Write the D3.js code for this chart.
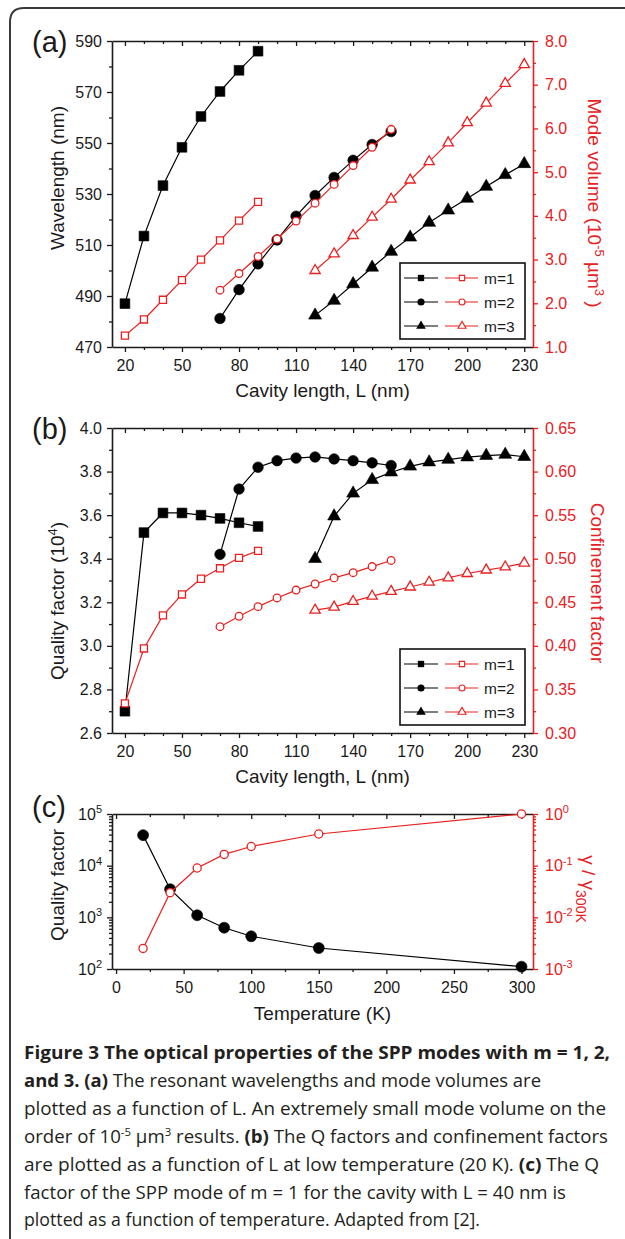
<!DOCTYPE html>
<html><head><meta charset="utf-8">
<script src="https://cdn.jsdelivr.net/npm/d3@7"></script>
<style>body{margin:0;background:#fff}svg{display:block}</style>
</head><body>
<svg id="c" width="625" height="1239"></svg>
<script>
// ---------------- DATA ----------------
// Panel (a): wavelength (nm) and mode volume (1e-5 um^3) vs cavity length L (nm)
const L_m1 = [20, 30, 40, 50, 60, 70, 80, 90];
const L_m2 = [70, 80, 90, 100, 110, 120, 130, 140, 150, 160];
const L_m3 = [120, 130, 140, 150, 160, 170, 180, 190, 200, 210, 220, 230];
const wavelength_m1 = [487, 513.5, 533.3, 548.3, 560.4, 570.2, 578.5, 586];
const wavelength_m2 = [481.2, 492.5, 502.6, 512, 521.3, 529.4, 536.5, 543.2, 549.4, 554.5];
const wavelength_m3 = [482.4, 488.2, 494.7, 501.2, 507.4, 513, 518.8, 523.6, 528.2, 532.9, 537.5, 541.8];
const volume_m1 = [1.26, 1.63, 2.08, 2.53, 3.0, 3.44, 3.89, 4.32];
const volume_m2 = [2.3, 2.68, 3.07, 3.47, 3.88, 4.29, 4.72, 5.15, 5.57, 5.98];
const volume_m3 = [2.75, 3.13, 3.55, 3.97, 4.38, 4.82, 5.24, 5.67, 6.13, 6.58, 7.03, 7.46];
// Panel (b): quality factor (1e4) and confinement factor vs L
const Q_m1 = [2.70, 3.52, 3.61, 3.61, 3.60, 3.585, 3.565, 3.548];
const Q_m2 = [3.42, 3.72, 3.82, 3.85, 3.862, 3.867, 3.858, 3.85, 3.84, 3.828];
const Q_m3 = [3.40, 3.595, 3.70, 3.762, 3.797, 3.824, 3.843, 3.855, 3.866, 3.873, 3.878, 3.868];
const conf_m1 = [0.334, 0.397, 0.435, 0.459, 0.477, 0.489, 0.501, 0.509];
const conf_m2 = [0.422, 0.434, 0.445, 0.455, 0.464, 0.471, 0.478, 0.484, 0.491, 0.498];
const conf_m3 = [0.441, 0.4445, 0.451, 0.457, 0.4625, 0.4675, 0.473, 0.478, 0.483, 0.487, 0.4905, 0.495];
// Panel (c): quality factor and gamma/gamma_300K vs temperature (K)
const temperature = [20, 40, 60, 80, 100, 150, 300];
const Q_temp = [39000, 3500, 1100, 630, 430, 255, 111];
const gamma_ratio = [0.0025, 0.030, 0.090, 0.165, 0.235, 0.41, 1.0];
// Ticks
const xTicksL = [20, 50, 80, 110, 140, 170, 200, 230];
const xMinorL = d3.range(20, 231, 10).filter(v => !xTicksL.includes(v));
const wlTicks = [470, 490, 510, 530, 550, 570, 590];
const volTicks = [1, 2, 3, 4, 5, 6, 7, 8];
const qTicks = [2.6, 2.8, 3.0, 3.2, 3.4, 3.6, 3.8, 4.0];
const confTicks = [0.30, 0.35, 0.40, 0.45, 0.50, 0.55, 0.60, 0.65];
const tTicks = [0, 50, 100, 150, 200, 250, 300];
const tMinor = [25, 75, 125, 175, 225, 275];
const qLogTicks = [1e2, 1e3, 1e4, 1e5];
const gLogTicks = [1e-3, 1e-2, 1e-1, 1e0];
const legendLabels = ["m=1", "m=2", "m=3"];

// ---------------- STYLE ----------------
const RED = "#e8201f";
const INK = "#1a1a1a";
const FONT = "'Liberation Sans', Arial, Helvetica, sans-serif";
const CAPFONT = "'Open Sans', 'Noto Sans', sans-serif";
const X0 = 112, X1 = 533;

const svg = d3.select("#c");
svg.append("rect").attr("width", 625).attr("height", 1239).attr("fill", "#fff");
// outer frame (top + left with rounded corner)
svg.append("path").attr("d", "M10,1239 V22 Q10,8 24,8 H625")
  .attr("fill", "none").attr("stroke", "#3a3a3a").attr("stroke-width", 2);

function styleAxis(sel, color, noDomain) {
  sel.attr("font-family", FONT);
  sel.selectAll(".tick line").attr("stroke", color).attr("stroke-width", 1.3);
  if (noDomain) sel.select(".domain").remove();
  else sel.select(".domain").attr("stroke", color).attr("stroke-width", 1.6);
  sel.selectAll(".tick text").attr("fill", color).attr("font-size", 16).attr("font-family", FONT);
}

function xAxes(x, top, bottom, majors, minors) {
  const a = svg.append("g").attr("transform", `translate(0,${bottom})`)
    .call(d3.axisBottom(x).tickValues(majors).tickSize(5).tickSizeOuter(0).tickPadding(8).tickFormat(d3.format("d")));
  styleAxis(a, INK);
  const b = svg.append("g").attr("transform", `translate(0,${bottom})`)
    .call(d3.axisBottom(x).tickValues(minors).tickSize(3).tickFormat(""));
  styleAxis(b, INK, true);
  const c = svg.append("g").attr("transform", `translate(0,${top})`)
    .call(d3.axisTop(x).tickValues(majors).tickSize(-5).tickSizeOuter(0).tickFormat(""));
  styleAxis(c, INK);
  const d = svg.append("g").attr("transform", `translate(0,${top})`)
    .call(d3.axisTop(x).tickValues(minors).tickSize(-3).tickFormat(""));
  styleAxis(d, INK, true);
}

function yAxis(scale, side, majors, minors, fmt, color) {
  const ax = side === "left" ? d3.axisLeft : d3.axisRight;
  const pos = side === "left" ? X0 : X1;
  const a = svg.append("g").attr("transform", `translate(${pos},0)`)
    .call(ax(scale).tickValues(majors).tickSize(5).tickSizeOuter(0).tickPadding(side === "left" ? 5 : 7).tickFormat(fmt));
  styleAxis(a, color);
  const b = svg.append("g").attr("transform", `translate(${pos},0)`)
    .call(ax(scale).tickValues(minors).tickSize(3).tickFormat(""));
  styleAxis(b, color, true);
  return a;
}

function supLabels(sel) {
  sel.selectAll(".tick text").each(function (d) {
    const t = d3.select(this);
    const e = Math.round(Math.log10(d));
    t.text("10");
    t.append("tspan").attr("dy", "-0.6em").attr("font-size", "11px").text(e);
  });
}

function series(xs, ys, x, y, sym, size, filled, color) {
  const line = d3.line().x((d, i) => x(xs[i])).y(d => y(d));
  svg.append("path").datum(ys).attr("d", line).attr("fill", "none")
    .attr("stroke", color).attr("stroke-width", 1.2);
  svg.append("g").selectAll("path").data(ys).join("path")
    .attr("transform", (d, i) => `translate(${x(xs[i])},${y(d)})`)
    .attr("d", d3.symbol(sym, size))
    .attr("fill", filled ? color : "#fff")
    .attr("stroke", color).attr("stroke-width", filled ? 0.6 : 1.3);
}

function legend(bottom) {
  const top = bottom - 84;
  const g = svg.append("g");
  g.append("rect").attr("x", 400).attr("y", top).attr("width", 125).attr("height", 76)
    .attr("fill", "#fff").attr("stroke", "#111").attr("stroke-width", 1.6);
  const syms = [d3.symbolSquare, d3.symbolCircle, d3.symbolTriangle];
  legendLabels.forEach((lab, i) => {
    const yy = top + 15 + i * 24;
    g.append("line").attr("x1", 404).attr("x2", 438).attr("y1", yy).attr("y2", yy).attr("stroke", "#000").attr("stroke-width", 1.2);
    g.append("path").attr("transform", `translate(421,${yy})`).attr("d", d3.symbol(syms[i], 40)).attr("fill", "#000");
    g.append("line").attr("x1", 445).attr("x2", 478).attr("y1", yy).attr("y2", yy).attr("stroke", RED).attr("stroke-width", 1.2);
    g.append("path").attr("transform", `translate(462,${yy})`).attr("d", d3.symbol(syms[i], 28)).attr("fill", "#fff").attr("stroke", RED).attr("stroke-width", 1.1);
    g.append("text").attr("x", 484).attr("y", yy + 5.5).attr("font-family", FONT).attr("font-size", 15.5).attr("fill", INK).text(lab);
  });
}

function panelLabel(txt, y) {
  svg.append("text").attr("x", 32).attr("y", y).attr("font-family", FONT).attr("font-size", 29).attr("fill", INK).text(txt);
}

function rotText(x, y, angle, color) {
  return svg.append("text").attr("transform", `translate(${x},${y}) rotate(${angle})`)
    .attr("text-anchor", "middle").attr("font-family", FONT).attr("font-size", 19).attr("fill", color);
}

// ---------------- PANEL (a) ----------------
{
  const top = 41, bottom = 347;
  const x = d3.scaleLinear([13.2, 234.6], [X0, X1]);
  const yL = d3.scaleLinear([470, 590], [bottom, top]);
  const yR = d3.scaleLinear([1, 8], [bottom, top]);
  xAxes(x, top, bottom, xTicksL, xMinorL);
  yAxis(yL, "left", wlTicks, d3.range(480, 590, 20), d3.format("d"), INK);
  yAxis(yR, "right", volTicks, d3.range(1.5, 8, 1), d3.format(".1f"), RED);
  series(L_m1, wavelength_m1, x, yL, d3.symbolSquare, 95, true, "#000");
  series(L_m2, wavelength_m2, x, yL, d3.symbolCircle, 88, true, "#000");
  series(L_m3, wavelength_m3, x, yL, d3.symbolTriangle, 72, true, "#000");
  series(L_m1, volume_m1, x, yR, d3.symbolSquare, 50, false, RED);
  series(L_m2, volume_m2, x, yR, d3.symbolCircle, 46, false, RED);
  series(L_m3, volume_m3, x, yR, d3.symbolTriangle, 46, false, RED);
  legend(bottom);
  panelLabel("(a)", 52);
  rotText(64, 178, -90, INK).text("Wavelength (nm)");
  const t = rotText(588, 203, 90, RED);
  t.append("tspan").text("Mode volume (10");
  t.append("tspan").attr("dy", -7).attr("font-size", 13).text("-5");
  t.append("tspan").attr("dy", 7).text(" µm");
  t.append("tspan").attr("dy", -7).attr("font-size", 13).text("3");
  t.append("tspan").attr("dy", 7).text(" )");
  svg.append("text").attr("x", (X0 + X1) / 2).attr("y", bottom + 50).attr("text-anchor", "middle")
    .attr("font-family", FONT).attr("font-size", 19).attr("fill", INK).text("Cavity length, L (nm)");
}

// ---------------- PANEL (b) ----------------
{
  const top = 428, bottom = 733;
  const x = d3.scaleLinear([13.2, 234.6], [X0, X1]);
  const yL = d3.scaleLinear([2.6, 4.0], [bottom, top]);
  const yR = d3.scaleLinear([0.30, 0.65], [bottom, top]);
  xAxes(x, top, bottom, xTicksL, xMinorL);
  yAxis(yL, "left", qTicks, d3.range(2.7, 4.0, 0.2), d3.format(".1f"), INK);
  yAxis(yR, "right", confTicks, d3.range(0.325, 0.65, 0.05), d3.format(".2f"), RED);
  series(L_m1, Q_m1, x, yL, d3.symbolSquare, 95, true, "#000");
  series(L_m2, Q_m2, x, yL, d3.symbolCircle, 88, true, "#000");
  series(L_m3, Q_m3, x, yL, d3.symbolTriangle, 72, true, "#000");
  series(L_m1, conf_m1, x, yR, d3.symbolSquare, 50, false, RED);
  series(L_m2, conf_m2, x, yR, d3.symbolCircle, 46, false, RED);
  series(L_m3, conf_m3, x, yR, d3.symbolTriangle, 46, false, RED);
  legend(bottom);
  panelLabel("(b)", 439);
  const t = rotText(64, 601, -90, INK);
  t.append("tspan").text("Quality factor  (10");
  t.append("tspan").attr("dy", -7).attr("font-size", 13).text("4");
  t.append("tspan").attr("dy", 7).text(")");
  rotText(591, 583, 90, RED).text("Confinement factor");
  svg.append("text").attr("x", (X0 + X1) / 2).attr("y", bottom + 50).attr("text-anchor", "middle")
    .attr("font-family", FONT).attr("font-size", 19).attr("fill", INK).text("Cavity length, L (nm)");
}

// ---------------- PANEL (c) ----------------
{
  const top = 814, bottom = 969;
  const x = d3.scaleLinear([-3, 308.5], [X0, X1]);
  const yL = d3.scaleLog([1e2, 1e5], [bottom, top]);
  const yR = d3.scaleLog([1e-3, 1], [bottom, top]);
  xAxes(x, top, bottom, tTicks, tMinor);
  const minorL = yL.ticks().filter(v => !qLogTicks.some(m => Math.abs(m - v) < 1e-9));
  const minorR = yR.ticks().filter(v => !gLogTicks.some(m => Math.abs(m - v) < 1e-12));
  const aL = yAxis(yL, "left", qLogTicks, minorL, d => d, INK);
  supLabels(aL);
  const aR = yAxis(yR, "right", gLogTicks, minorR, d => d, RED);
  supLabels(aR);
  series(temperature, Q_temp, x, yL, d3.symbolCircle, 95, true, "#000");
  series(temperature, gamma_ratio, x, yR, d3.symbolCircle, 52, false, RED);
  panelLabel("(c)", 817);
  rotText(64, 885, -90, INK).text("Quality factor");
  const t = rotText(582, 889, 90, RED);
  t.append("tspan").text("γ / γ");
  t.append("tspan").attr("dy", 6).attr("font-size", 14).text("300K");
  svg.append("text").attr("x", (X0 + X1) / 2).attr("y", bottom + 51).attr("text-anchor", "middle")
    .attr("font-family", FONT).attr("font-size", 19).attr("fill", INK).text("Temperature (K)");
}

// ---------------- CAPTION ----------------
const captionLines = [
  [["Figure 3 The optical properties of the SPP modes with m = 1, 2,", "b"]],
  [["and 3. ", "b"], ["(a)", "b"], [" The resonant wavelengths and mode volumes are", ""]],
  [["plotted as a function of L. An extremely small mode volume on the", ""]],
  [["order of 10", ""], ["-5", "sup"], [" µm", ""], ["3", "sup"], [" results. ", ""], ["(b)", "b"], [" The Q factors and confinement factors", ""]],
  [["are plotted as a function of L at low temperature (20 K). ", ""], ["(c)", "b"], [" The Q", ""]],
  [["factor of the SPP mode of m = 1 for the cavity with L = 40 nm is", ""]],
  [["plotted as a function of temperature. Adapted from [2].", ""]]
];
const captionEnds = [610, 541, 606, 608, 599, 566, 480];
const capStart = 24, capBase = 1059, capStep = 27.9;
captionLines.forEach((parts, i) => {
  const t = svg.append("text").attr("x", capStart).attr("y", capBase + i * capStep)
    .attr("font-family", CAPFONT).attr("font-size", 18).attr("fill", "#231f20");
  let shifted = false;
  parts.forEach(([s, k]) => {
    const sp = t.append("tspan").text(s);
    if (k === "b") sp.attr("font-weight", "bold");
    if (k === "sup") { sp.attr("font-size", 11).attr("dy", -7); shifted = true; }
    else if (shifted) { sp.attr("dy", 7); shifted = false; }
  });
  t.attr("textLength", captionEnds[i] - capStart).attr("lengthAdjust", "spacingAndGlyphs");
});
</script>
</body></html>
